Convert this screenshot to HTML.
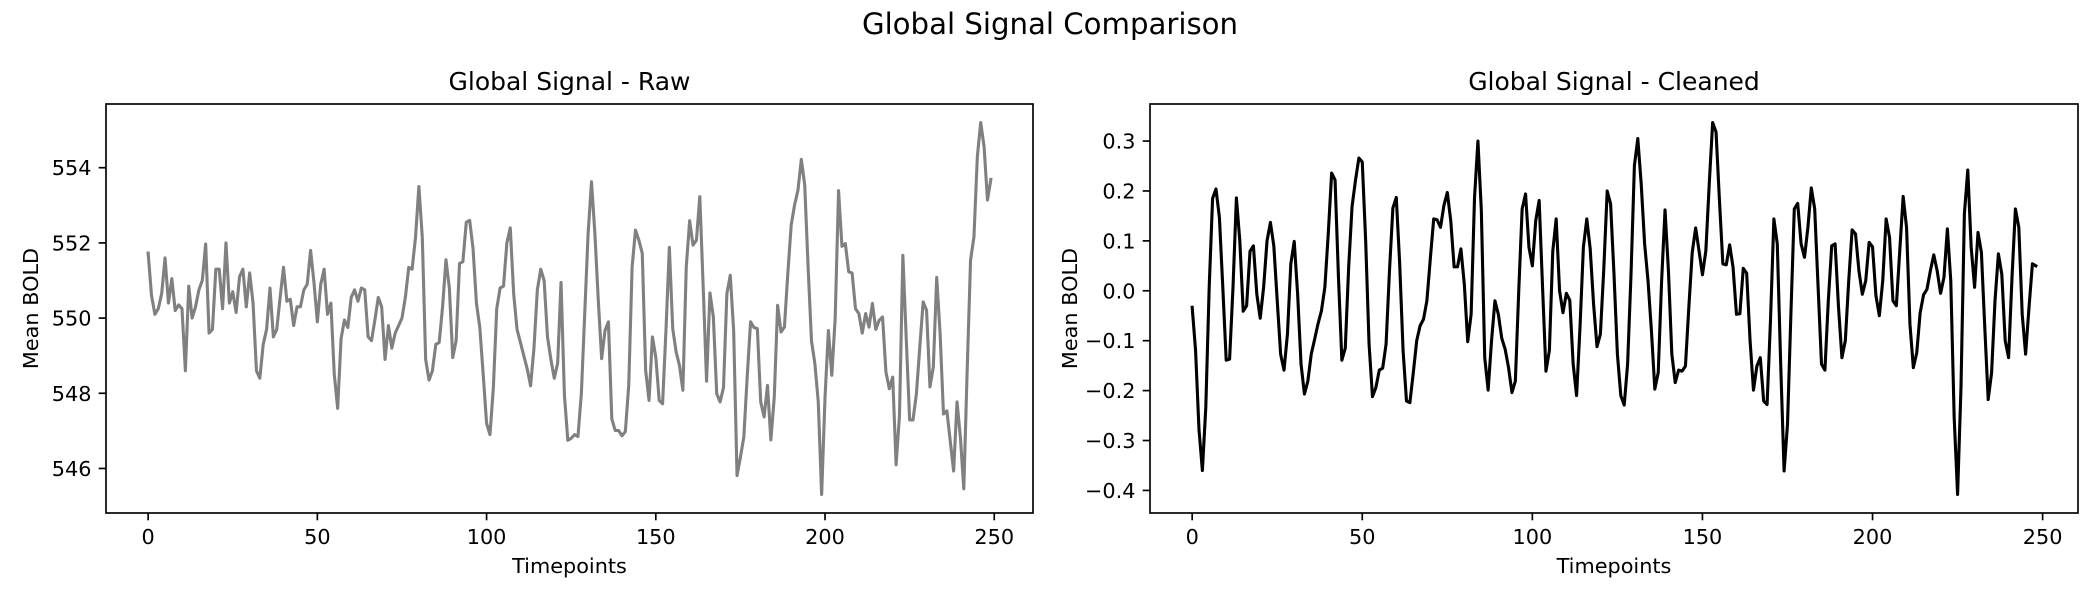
<!DOCTYPE html>
<html><head><meta charset="utf-8">
<style>
html,body{margin:0;padding:0;background:#fff;}
svg{display:block;font-family:"DejaVu Sans","Liberation Sans",sans-serif;}
</style></head>
<body>
<svg id="fig" width="2100" height="600" viewBox="0 0 2100 600" xmlns="http://www.w3.org/2000/svg">
<rect width="2100" height="600" fill="#fff"/>
<text x="1050" y="34" font-size="29.2" text-anchor="middle" fill="#000">Global Signal Comparison</text>
</svg>
<script>
const rawValues = [551.73,550.6,550.1,550.25,550.65,551.6,550.4,551.05,550.2,550.35,550.25,548.6,550.85,550.0,550.3,550.75,551.0,551.97,549.6,549.7,551.3,551.3,550.25,552.0,550.4,550.7,550.15,551.1,551.3,550.3,551.2,550.4,548.6,548.4,549.3,549.7,550.8,549.5,549.7,550.55,551.35,550.45,550.5,549.8,550.3,550.3,550.75,550.9,551.8,550.95,549.9,550.9,551.3,550.1,550.4,548.5,547.6,549.45,549.95,549.75,550.55,550.75,550.45,550.8,550.75,549.5,549.4,549.95,550.55,550.3,548.9,549.8,549.2,549.6,549.8,550.0,550.55,551.35,551.3,552.15,553.5,552.15,548.9,548.35,548.6,549.3,549.35,550.3,551.55,550.8,548.95,549.4,551.45,551.5,552.55,552.6,551.85,550.4,549.75,548.5,547.2,546.9,548.15,550.25,550.8,550.85,552.0,552.4,550.65,549.7,549.35,549.0,548.65,548.2,549.2,550.75,551.3,551.0,549.5,548.9,548.4,548.8,550.95,547.95,546.75,546.8,546.9,546.85,
547.99,550.12,552.25,553.63,552.25,550.48,548.92,549.67,549.9,547.32,547.01,547.01,546.87,546.98,548.21,551.36,552.34,552.07,551.72,548.61,547.81,549.5,548.96,547.81,547.72,549.67,551.88,549.72,549.1,548.74,548.08,551.36,552.59,551.94,552.07,553.23,550.83,548.32,550.67,550.03,547.99,547.77,548.15,550.65,551.14,549.67,545.81,546.3,546.83,548.43,549.9,549.75,549.72,547.77,547.37,548.21,546.76,547.9,550.34,549.63,549.76,551.18,552.47,553.01,553.4,554.22,553.54,551.36,549.39,548.79,547.77,545.31,547.9,549.67,548.48,549.99,553.39,551.91,551.98,551.23,551.2,550.25,550.12,549.6,550.12,549.76,550.39,549.7,549.94,550.03,548.56,548.12,548.43,546.1,547.41,551.67,549.45,547.29,547.29,547.99,549.23,550.43,550.21,548.17,548.7,551.08,549.59,547.45,547.53,546.73,545.93,547.77,546.83,545.46,548.61,551.54,552.16,554.29,555.2,554.56,553.14,553.69];
const cleanedValues = [-0.033,-0.12,-0.278,-0.36,-0.234,0.007,0.185,0.204,0.147,0.007,-0.139,-0.137,0.007,0.186,0.1,-0.041,-0.03,0.079,0.09,-0.007,-0.055,0.007,0.1,0.137,0.09,-0.02,-0.127,-0.159,-0.087,0.054,0.099,-0.007,-0.147,-0.207,-0.181,-0.127,-0.097,-0.066,-0.04,0.007,0.114,0.236,0.222,0.027,-0.139,-0.115,0.047,0.169,0.221,0.266,0.258,0.1,-0.107,-0.212,-0.194,-0.159,-0.155,-0.107,0.04,0.166,0.187,0.054,-0.12,-0.221,-0.224,-0.164,-0.1,-0.07,-0.057,-0.02,0.064,0.144,0.142,0.127,0.171,0.197,0.141,0.048,0.048,0.084,0.013,-0.102,-0.047,0.187,0.3,0.161,-0.134,-0.199,-0.1,-0.02,-0.047,-0.095,-0.117,-0.154,-0.204,-0.181,0,0.164,0.194,0.087,0.05,0.141,0.181,0.007,-0.161,-0.12,0.079,0.144,0,-0.044,-0.005,-0.019,-0.147,-0.21,-0.074,0.087,0.144,0.084,-0.027,-0.112,-0.087,0.044,0.2,0.174,0.033,-0.127,-0.21,
-0.229,-0.147,0.033,0.251,0.305,0.214,0.094,0.02,-0.08,-0.197,-0.164,0.02,0.162,0.04,-0.127,-0.184,-0.159,-0.161,-0.151,-0.033,0.077,0.126,0.08,0.032,0.08,0.214,0.337,0.318,0.181,0.054,0.052,0.092,0.047,-0.047,-0.046,0.045,0.035,-0.1,-0.199,-0.151,-0.134,-0.221,-0.228,-0.06,0.144,0.094,-0.147,-0.361,-0.268,-0.047,0.164,0.175,0.094,0.067,0.127,0.206,0.164,0.007,-0.147,-0.159,-0.02,0.09,0.094,-0.033,-0.134,-0.1,0.02,0.122,0.114,0.04,-0.007,0.02,0.097,0.088,-0.01,-0.05,0.02,0.144,0.107,-0.02,-0.03,0.08,0.189,0.127,-0.067,-0.154,-0.124,-0.044,-0.008,0.003,0.04,0.072,0.04,-0.005,0.027,0.124,0.02,-0.254,-0.408,-0.194,0.154,0.242,0.087,0.007,0.117,0.077,-0.074,-0.218,-0.164,-0.02,0.074,0.033,-0.1,-0.134,0.027,0.164,0.127,-0.047,-0.127,-0.033,0.054,0.05];
const xTicks = [0,50,100,150,200,250];
const rawYTicks = [546,548,550,552,554];
const cleanYTicks = [-0.4,-0.3,-0.2,-0.1,0.0,0.1,0.2,0.3];
const panelTitles = ["Global Signal - Raw","Global Signal - Cleaned"];

const NS="http://www.w3.org/2000/svg";
const svg=document.getElementById('fig');
function mk(tag,attrs,parent){const e=document.createElementNS(NS,tag);for(const k in attrs)e.setAttribute(k,attrs[k]);(parent||svg).appendChild(e);return e;}
function fmt(v,dec){let s=v.toFixed(dec);if(v<0)s='\u2212'+s.slice(1);return s;}

function panel(key,L,R,T,B,vals,yTicks,dec,color,title,ylabelX){
  const g=mk('g',{});
  
  
  const n=vals.length;
  const xmin=-0.05*(n-1),xmax=(n-1)*1.05;
  const mn=Math.min(...vals),mx=Math.max(...vals),m=(mx-mn)*0.05;
  const ymin=mn-m,ymax=mx+m;
  const sx=t=>L+(t-xmin)/(xmax-xmin)*(R-L);
  const sy=v=>B-(v-ymin)/(ymax-ymin)*(B-T);
  const d=vals.map((v,i)=>(i?'L':'M')+sx(i).toFixed(2)+' '+sy(v).toFixed(2)).join(' ');
  const line=mk('path',{d:d,fill:'none',stroke:color,'stroke-width':3.1,'stroke-linejoin':'round','stroke-linecap':'square'},g);
  
  
  const frame=mk('rect',{x:L,y:T,width:R-L,height:B-T,fill:'none',stroke:'#000','stroke-width':1.67},g);
  
  
  xTicks.forEach(t=>{
    const x=sx(t);
    mk('line',{x1:x,x2:x,y1:B,y2:B+7.3,stroke:'#000','stroke-width':1.67},g);
    const tx=mk('text',{x:x,y:544,'font-size':20.8,'text-anchor':'middle',fill:'#000'},g);
    tx.textContent=String(t);
    
    
  });
  yTicks.forEach(v=>{
    const y=sy(v);
    mk('line',{x1:L-7.3,x2:L,y1:y,y2:y,stroke:'#000','stroke-width':1.67},g);
    const tx=mk('text',{x:L-14.5,y:y+7.5,'font-size':20.8,'text-anchor':'end',fill:'#000'},g);
    tx.textContent=fmt(v,dec);
    
    
  });
  const tt=mk('text',{x:(L+R)/2,y:90,'font-size':25,'text-anchor':'middle',fill:'#000'},g);
  tt.textContent=title;
  
  
  const xl=mk('text',{x:(L+R)/2,y:573,'font-size':20.8,'text-anchor':'middle',fill:'#000'},g);
  xl.textContent='Timepoints';
  
  
  const yc=(T+B)/2, yx=ylabelX;
  const yl=mk('text',{x:yx,y:yc,'font-size':20.8,'text-anchor':'middle',fill:'#000',transform:'rotate(-90 '+yx+' '+yc+')'},g);
  yl.textContent='Mean BOLD';
  
  
}
panel('raw',106,1033,104,513,rawValues,rawYTicks,0,'#808080',panelTitles[0],38);
panel('cleaned',1150,2078,104,513,cleanedValues,cleanYTicks,1,'#000000',panelTitles[1],1077);
</script>
</body></html>
